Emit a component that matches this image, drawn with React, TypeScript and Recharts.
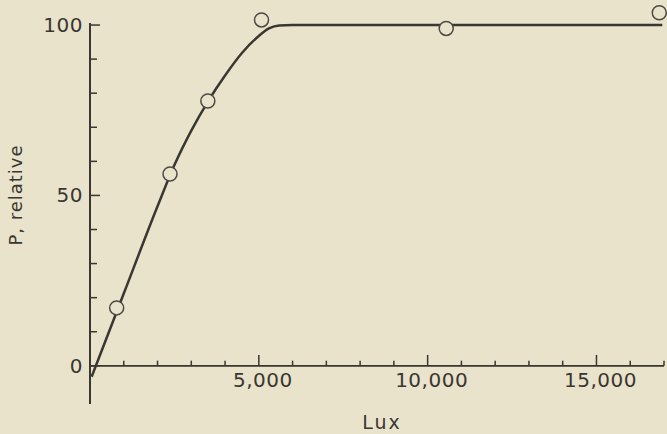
import React from 'react'
import {
  ComposedChart,
  Line,
  Scatter,
  XAxis,
  YAxis,
  ReferenceLine,
} from 'recharts'

// fitted curve drawn through the measurements
const curveLux = [50, 1000, 2000, 2500, 3000, 3500, 4000, 4500, 5000, 5300, 5600, 6000, 16950]
const curveP = [-3.2, 21.2, 46.8, 58.9, 69.0, 77.7, 85.2, 91.8, 96.8, 99.0, 99.9, 100, 100]

// measured points (open circles)
const pointLux = [790, 2370, 3490, 5080, 10550, 16860]
const pointP = [17, 56.3, 77.7, 101.5, 99, 103.6]

const yTicks = [0, 10, 20, 30, 40, 50, 60, 70, 80, 90, 100]
const yLabels: Record<number, string> = { 0: '0', 50: '50', 100: '100' }
const xTicks = [1000, 2000, 3000, 4000, 5000, 6000, 7000, 8000, 9000, 10000, 11000, 12000, 13000, 14000, 15000, 16000, 17000]
const xLabels: Record<number, string> = { 5000: '5,000', 10000: '10,000', 15000: '15,000' }

const curveData = curveLux.map((x, i) => ({ x, p: curveP[i] }))
const pointData = pointLux.map((x, i) => ({ x, p: pointP[i] }))

const BG = '#e9e3cc'
const INK = '#3a3631'
const FONT = '"DejaVu Sans", sans-serif'

const YTick = (props: any) => {
  const { x, y, payload } = props
  const v = payload.value
  const major = v % 50 === 0
  return (
    <g>
      <line x1={x} x2={x + (major ? 10 : 7)} y1={y} y2={y} stroke={INK} strokeWidth={1.5} />
      {yLabels[v] && (
        <text
          x={x - 7}
          y={y}
          textAnchor="end"
          dominantBaseline="central"
          fill={INK}
          fontSize={20}
          fontFamily={FONT}
          letterSpacing={0.5}
        >
          {yLabels[v]}
        </text>
      )}
    </g>
  )
}

const Circle = (props: any) => {
  const { cx, cy } = props
  return <circle cx={cx} cy={cy} r={7} fill={BG} stroke="#4e4944" strokeWidth={1.5} />
}

const YTitle = () => (
  <text
    x={22}
    y={195}
    transform="rotate(-90 22 195)"
    textAnchor="middle"
    fill={INK}
    fontSize={18}
    fontFamily={FONT}
    letterSpacing={1}
  >
    P, relative
  </text>
)

export default function App() {
  return (
    <div style={{ position: 'absolute', left: 0, top: 0, width: 667, height: 434, background: BG }}>
      <ComposedChart width={667} height={434} margin={{ top: 8, right: 3, bottom: 0, left: 0 }}>
        <XAxis
          type="number"
          dataKey="x"
          domain={[0, 17000]}
          axisLine={false}
          tickLine={false}
          tick={false}
          height={29}
          label={{
            value: 'Lux',
            position: 'insideBottom',
            offset: 5,
            dx: 5,
            fill: INK,
            fontSize: 19,
            fontFamily: FONT,
            letterSpacing: 2,
          }}
        />
        <YAxis
          type="number"
          dataKey="p"
          domain={[-11.5, 105]}
          ticks={yTicks}
          interval={0}
          width={90}
          axisLine={false}
          tickLine={false}
          tickSize={0}
          tickMargin={0}
          tick={<YTick />}
          label={<YTitle />}
        />
        {/* y axis line, running a little below zero */}
        <ReferenceLine
          segment={[{ x: 0, y: -11.2 }, { x: 0, y: 100.6 }]}
          stroke={INK}
          strokeWidth={2}
          ifOverflow="visible"
        />
        {/* x axis sits at P = 0 */}
        <ReferenceLine y={0} stroke={INK} strokeWidth={1.8} ifOverflow="visible" />
        {xTicks.map((t) => (
          <ReferenceLine
            key={t}
            segment={[{ x: t, y: 0 }, { x: t, y: xLabels[t] ? 3.2 : 1.5 }]}
            stroke={INK}
            strokeWidth={1.5}
            ifOverflow="visible"
            label={
              xLabels[t]
                ? {
                    value: xLabels[t],
                    position: 'bottom',
                    offset: 7,
                    dx: 4,
                    fill: INK,
                    fontSize: 20,
                    fontFamily: FONT,
                    letterSpacing: 0.5,
                  }
                : undefined
            }
          />
        ))}
        <Line
          data={curveData}
          dataKey="p"
          type="monotone"
          stroke={INK}
          strokeWidth={2.5}
          dot={false}
          activeDot={false}
          isAnimationActive={false}
        />
        <Scatter data={pointData} dataKey="p" shape={<Circle />} isAnimationActive={false} />
      </ComposedChart>
    </div>
  )
}
